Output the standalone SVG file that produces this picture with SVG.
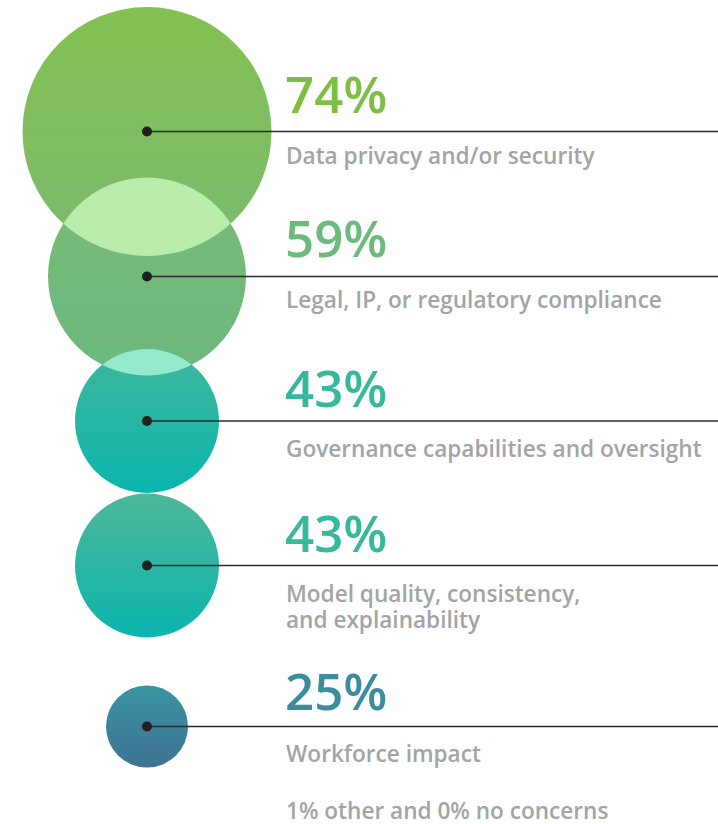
<svg xmlns="http://www.w3.org/2000/svg" width="718" height="824" viewBox="0 0 718 824">
<defs>
<style>
.pct{font-family:"Open Sans","Noto Sans",sans-serif;font-weight:600;font-size:51px}
.lbl{font-family:"Open Sans","Noto Sans",sans-serif;font-weight:600;font-size:22.6px;fill:#a2a5a8}
.ln{stroke:#2b2b2b;stroke-width:1.5;fill:none}
.dot{fill:#231f20}
</style>
<linearGradient id="g1" x1="0" y1="0" x2="0" y2="1"><stop offset="0" stop-color="#84c151"/><stop offset="1" stop-color="#7abb6e"/></linearGradient>
<linearGradient id="g2" x1="0" y1="0" x2="0" y2="1"><stop offset="0" stop-color="#79bc74"/><stop offset="1" stop-color="#6cb880"/></linearGradient>
<linearGradient id="g3" x1="0" y1="0" x2="0" y2="1"><stop offset="0" stop-color="#40b79c"/><stop offset="1" stop-color="#0ab5ae"/></linearGradient>
<linearGradient id="g4" x1="0" y1="0" x2="0" y2="1"><stop offset="0" stop-color="#4db698"/><stop offset="1" stop-color="#0ab5ae"/></linearGradient>
<linearGradient id="g5" x1="0" y1="0" x2="0" y2="1"><stop offset="0" stop-color="#3a95a0"/><stop offset="1" stop-color="#3e7295"/></linearGradient>
<clipPath id="c1"><circle cx="147" cy="131.5" r="124.5"/></clipPath>
<clipPath id="c2"><circle cx="147" cy="276.5" r="99"/></clipPath>
</defs>
<g id="node1">
<circle cx="147" cy="131.5" r="124.5" fill="url(#g1)"/>
</g>
<g id="node2">
<circle cx="147" cy="276.5" r="99" fill="url(#g2)"/>
<circle cx="147" cy="276.5" r="99" fill="#b9edab" clip-path="url(#c1)"/>
</g>
<g id="node3">
<circle cx="147" cy="421" r="72" fill="url(#g3)"/>
<circle cx="147" cy="421" r="72" fill="#94eacb" clip-path="url(#c2)"/>
</g>
<g id="node4">
<circle cx="147" cy="565.5" r="72" fill="url(#g4)"/>
</g>
<g id="node5">
<circle cx="147" cy="726.5" r="41" fill="url(#g5)"/>
</g>
<g id="connectors">
<line class="ln" x1="147" y1="131.5" x2="718" y2="131.5"/>
<line class="ln" x1="147" y1="276.5" x2="718" y2="276.5"/>
<line class="ln" x1="147" y1="421" x2="718" y2="421"/>
<line class="ln" x1="147" y1="565.5" x2="718" y2="565.5"/>
<line class="ln" x1="147" y1="726.5" x2="718" y2="726.5"/>
<circle class="dot" cx="147" cy="131.5" r="5"/>
<circle class="dot" cx="147" cy="276.5" r="5"/>
<circle class="dot" cx="147" cy="421" r="5"/>
<circle class="dot" cx="147" cy="565.5" r="5"/>
<circle class="dot" cx="147" cy="726.5" r="5"/>
</g>
<g id="label1">
<text class="pct" x="285" y="113" fill="#7dbf45">74%</text>
<text class="lbl" x="286" y="164">Data privacy and/or security</text>
</g>
<g id="label2">
<text class="pct" x="285" y="257" fill="#6cbb7c">59%</text>
<text class="lbl" x="286" y="308">Legal, IP, or regulatory compliance</text>
</g>
<g id="label3">
<text class="pct" x="285" y="407" fill="#35b89c">43%</text>
<text class="lbl" x="286" y="457">Governance capabilities and oversight</text>
</g>
<g id="label4">
<text class="pct" x="285" y="552" fill="#35b89c">43%</text>
<text class="lbl" x="286" y="601.5">Model quality, consistency,</text>
<text class="lbl" x="286" y="628">and explainability</text>
</g>
<g id="label5">
<text class="pct" x="285" y="710" fill="#3a8d9e">25%</text>
<text class="lbl" x="286" y="762">Workforce impact</text>
</g>
<g id="note">
<text class="lbl" x="286" y="819">1% other and 0% no concerns</text>
</g>
</svg>
